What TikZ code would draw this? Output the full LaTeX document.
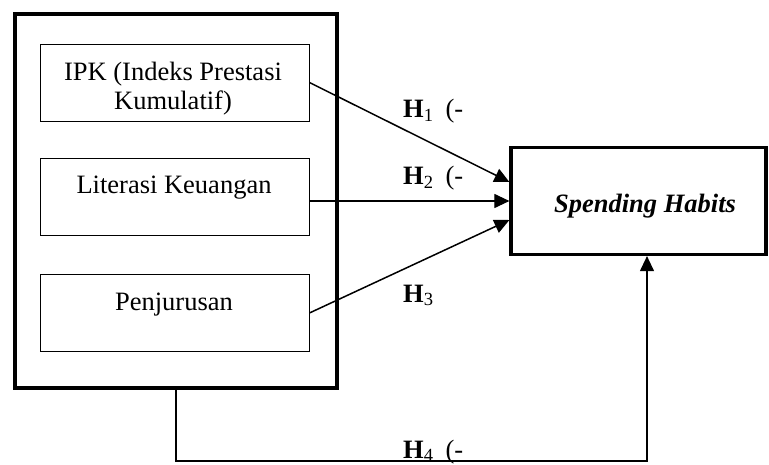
\documentclass[tikz,border=0pt]{standalone}
\usepackage{fontspec}
\setmainfont{Liberation Serif}
\usetikzlibrary{arrows.meta,positioning}

\begin{document}
\begin{tikzpicture}[x=1pt, y=-1pt,
  every node/.style={font=\fontsize{26.5}{29}\selectfont},
  varbox/.style={rectangle, draw=black, line width=0.9pt, minimum width=269pt, minimum height=77pt, inner sep=0pt},
  vartext/.style={anchor=base, inner sep=0pt, align=center},
  hlabel/.style={anchor=base west, inner sep=0pt, font=\fontsize{26.5}{29}\selectfont\bfseries},
  harrow/.style={-{Triangle[length=15pt, width=14pt]}, line width=1.5pt}]

\useasboundingbox (0,0) rectangle (769,465);

% Group box
\node[rectangle, draw=black, line width=4pt, minimum width=322pt, minimum height=374pt] (grp) at (176,201) {};

% Variables inside group
\node[varbox] (ipk) at (174.5,82.5) {};
\node[varbox] (lit) at (174.5,196.5) {};
\node[varbox] (jur) at (174.5,313) {};
\node[vartext] (ipktext) at (173,110) {IPK (Indeks Prestasi\\Kumulatif)};
\node[vartext] (littext) at (174,194) {Literasi Keuangan};
\node[vartext] (jurtext) at (174,311) {Penjurusan};

% Dependent variable
\node[rectangle, draw=black, line width=3.2pt, minimum width=255pt, minimum height=107pt] (hab) at (638.5,201) {};
\node[anchor=base, inner sep=0pt, font=\fontsize{26.5}{29}\selectfont\bfseries\itshape] (habtext) at (645,213) {Spending Habits};

% Hypotheses
\draw[harrow] (ipk.east) -- ([yshift=19pt]hab.west);
\draw[harrow, line width=1.1pt] (lit.east |- hab.west) -- (hab.west);
\draw[harrow] (jur.east) -- ([yshift=-19pt]hab.west);
\coordinate (c4) at (647,461);
\draw[harrow, line width=1.1pt] (grp.south) |- (c4) -- (c4 |- hab.south);

\node[hlabel] (h1) at (403,118) {H\textsubscript{\mdseries 1}\hspace{12pt}\mdseries(-};
\node[hlabel] (h2) at (403,185) {H\textsubscript{\mdseries 2}\hspace{12pt}\mdseries(-};
\node[hlabel] (h3) at (403,302) {H\textsubscript{\mdseries 3}};
\node[hlabel] (h4) at (403,458) {H\textsubscript{\mdseries 4}\hspace{12pt}\mdseries(-};

\end{tikzpicture}
\end{document}
